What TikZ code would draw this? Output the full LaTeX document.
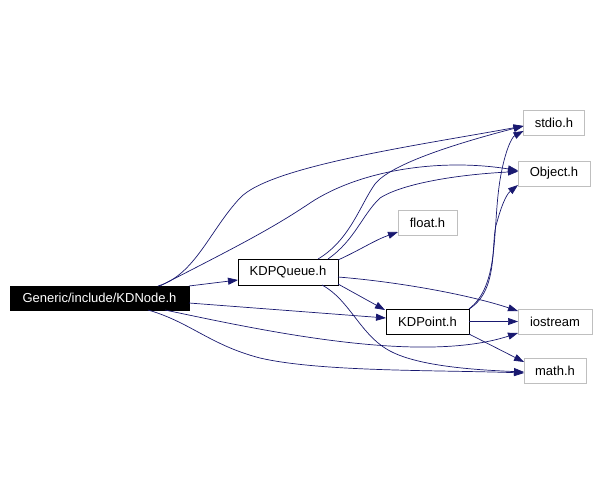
\documentclass[tikz,border=0pt]{standalone}
\usepackage{fontspec}
\setmainfont{Liberation Sans}
\usetikzlibrary{positioning, arrows.meta}
\definecolor{edgecolor}{RGB}{25, 25, 112}
\definecolor{extcolor}{RGB}{191, 191, 191}

\begin{document}
\begin{tikzpicture}[
    x=1pt, y=-1pt,
    file/.style={rectangle, draw, minimum height=25pt, inner sep=0pt, outer sep=0pt, align=center, font=\fontsize{13}{15}\selectfont, line width=0.8pt},
    mainfile/.style={file, fill=black, text=white, minimum height=24pt},
    extfile/.style={file, draw=extcolor},
    dep/.style={-{Triangle[length=10pt, width=7pt]}, draw=edgecolor, line width=0.7pt},
]
\useasboundingbox (0,0) rectangle (599,492);

% ============ source file (left) ============
\node[mainfile, minimum width=179pt] (kdnode) at (99.5,298) {Generic/include/KDNode.h};

% ============ project headers ============
\node[file, minimum width=100pt, minimum height=26pt, right=49pt of kdnode, yshift=26pt] (kdpqueue) {KDPQueue.h};
\node[file, minimum width=83pt, right=48pt of kdpqueue, yshift=-49.5pt] (kdpoint) {KDPoint.h};

% ============ system headers (right) ============
\node[extfile, minimum width=59pt, right=60pt of kdpqueue, yshift=49.5pt] (floath) {float.h};
\node[extfile, minimum width=74pt, right=49pt of kdpoint] (iostream) {iostream};
\node[extfile, minimum width=62pt, below=24pt of iostream] (mathh) {math.h};
\node[extfile, minimum width=72pt, above=123pt of iostream, xshift=-1pt] (objecth) {Object.h};
\node[extfile, minimum width=61pt, above=26pt of objecth] (stdioh) {stdio.h};

% ============ edges ============
% KDNode.h
\draw[dep] (kdnode.north east) -- ([shift={(0,8)}]kdpqueue.west);
\draw[dep] ([shift={(58.5,0)}]kdnode.north) .. controls (195,275) and (210,230) .. (240,198)
    .. controls (270,166) and (420,145) .. ([shift={(0,3.5)}]stdioh.west);
\draw[dep] ([shift={(60.5,0)}]kdnode.north) .. controls (230,250) and (270,230) .. (310,203)
    .. controls (360,170) and (440,158) .. ([shift={(0,-3)}]objecth.west);
\draw[dep] ([shift={(0,5)}]kdnode.east) -- ([shift={(0,-3.5)}]kdpoint.west);
\draw[dep] ([shift={(65.5,0)}]kdnode.south) .. controls (260,330) and (420,365) .. ([shift={(0,-1)}]iostream.south west);
\draw[dep] ([shift={(48.5,0)}]kdnode.south) .. controls (190,322) and (210,345) .. (260,358)
    .. controls (320,372) and (440,370) .. ([shift={(0,2.5)}]mathh.west);

% KDPQueue.h
\draw[dep] ([shift={(30,0)}]kdpqueue.north) .. controls (350,240) and (360,205) .. (375,184)
    .. controls (390,165) and (450,145) .. ([shift={(0,3.5)}]stdioh.west);
\draw[dep] ([shift={(40,0)}]kdpqueue.north) .. controls (355,240) and (362,215) .. (380,198)
    .. controls (400,185) and (450,175) .. ([shift={(0,-2)}]objecth.west);
\draw[dep] ([shift={(0,1)}]kdpqueue.north east) .. controls (360,250) and (375,240) .. ([shift={(0,9.5)}]floath.west);
\draw[dep] ([shift={(0,-1)}]kdpqueue.south east) -- ([shift={(-1,1)}]kdpoint.north west);
\draw[dep] ([shift={(0,5)}]kdpqueue.east) .. controls (400,282) and (470,295) .. ([shift={(0,2)}]iostream.north west);
\draw[dep] ([shift={(34,0)}]kdpqueue.south) .. controls (350,300) and (360,335) .. (390,351)
    .. controls (420,367) and (480,370) .. ([shift={(0,1.5)}]mathh.west);

% KDPoint.h
\draw[dep] (kdpoint.north east) .. controls (500,285) and (492,230) .. (500,180)
    .. controls (505,150) and (512,137) .. ([shift={(0,-4)}]stdioh.south west);
\draw[dep] (kdpoint.north east) .. controls (500,290) and (490,240) .. (497,222)
    .. controls (503,200) and (508,193) .. ([shift={(0,-1)}]objecth.south west);
\draw[dep] (kdpoint.east) -- (iostream.west);
\draw[dep] (kdpoint.south east) -- ([shift={(0,4)}]mathh.north west);

\end{tikzpicture}
\end{document}
